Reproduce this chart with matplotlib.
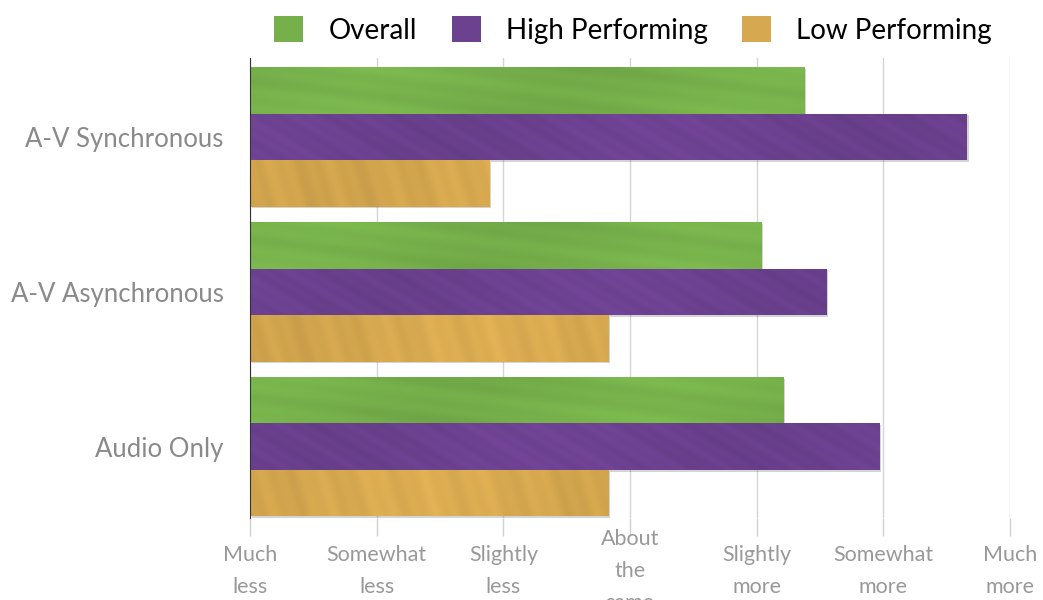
import numpy as np
import matplotlib.pyplot as plt
from matplotlib.patches import Patch
import matplotlib.patheffects as pe

# Survey responses on a 1-7 scale (Much less ... Much more)
categories = ['A-V Synchronous', 'A-V Asynchronous', 'Audio Only']
overall = [5.38, 5.04, 5.21]
high_performing = [6.66, 5.55, 5.97]
low_performing = [2.89, 3.83, 3.83]
series_names = ['Overall', 'High Performing', 'Low Performing']
tick_labels = ['Much\nless', 'Somewhat\nless', 'Slightly\nless', 'About\nthe\nsame',
               'Slightly\nmore', 'Somewhat\nmore', 'Much\nmore']

colors = ['#76b04b', '#6c4190', '#d6a84f']
# streak direction (radians) and spatial frequency for the painted look
strokes = [(1.45, 0.13), (1.05, 0.2), (0.3, 0.12)]

plt.rcParams['font.family'] = ['Lato', 'DejaVu Sans']

fig = plt.figure(figsize=(10.43, 6), dpi=100)
ax = fig.add_axes([0.2397, 0.1367, 0.7287, 0.7667])

bar_h = 0.3
y = np.arange(len(categories))
series = [overall, high_performing, low_performing]


def brush_texture(color, w, h, angle, freq, phase):
    # deterministic streaky texture built from a few sine waves
    yy, xx = np.mgrid[0:h, 0:w].astype(float)
    u = xx * np.cos(angle) + yy * np.sin(angle)
    shade = (0.018 * np.sin(u * freq + phase)
             + 0.014 * np.sin(u * freq * 2.7 + 1.3 * phase)
             + 0.03 * np.sin(xx * 0.015 + phase))
    base = np.array(plt.matplotlib.colors.to_rgb(color))
    img = base[None, None, :] * (1 + shade[..., None])
    return np.clip(img, 0, 1)


shadow = [pe.SimplePatchShadow(offset=(1.2, -1.2), alpha=0.25, shadow_rgbFace='#555555'),
          pe.Normal()]

for i, (vals, col, (ang, fr)) in enumerate(zip(series, colors, strokes)):
    ypos = y - bar_h + i * bar_h
    bars = ax.barh(ypos, np.array(vals) - 1, left=1, height=bar_h, color=col,
                   zorder=3, label=series_names[i])
    for j, b in enumerate(bars):
        b.set_path_effects(shadow)
        x0, y0 = b.get_x(), b.get_y()
        w_px = int(b.get_width() * 127) + 1
        img = brush_texture(col, w_px, 46, ang, fr, 1.7 * i + 0.9 * j)
        im = ax.imshow(img, extent=(x0, x0 + b.get_width(), y0, y0 + bar_h),
                       aspect='auto', zorder=4, interpolation='bilinear')
        im.set_clip_path(b)

ax.set_xlim(1, 7)
ax.set_ylim(2.46, -0.51)
ax.set_aspect('auto')

ax.set_yticks(y)
ax.set_yticklabels(categories, fontsize=18.5, color='#8a8a8a')
ax.tick_params(axis='y', length=0, pad=19)

ax.set_xticks(np.arange(1, 8))
ax.set_xticklabels(tick_labels, fontsize=15.5, color='#999999', linespacing=1.75)
for lab in ax.get_xticklabels():
    lab.set_verticalalignment('center')
ax.tick_params(axis='x', length=13, color='#d0d0d0', width=1, pad=25)

ax.grid(axis='x', color='#d5d5d5', linewidth=1, zorder=0)
for s in ['top', 'right', 'bottom']:
    ax.spines[s].set_visible(False)
ax.spines['left'].set_color('#333333')
ax.spines['left'].set_zorder(5)

handles = [Patch(facecolor=c) for c in colors]
fig.legend(handles, series_names, loc='center', bbox_to_anchor=(0.607, 0.95), ncol=3,
           frameon=False, fontsize=20, handlelength=1.05, handleheight=1.05,
           handletextpad=0.9, columnspacing=1.25)

fig.savefig('out.png', dpi=100)
